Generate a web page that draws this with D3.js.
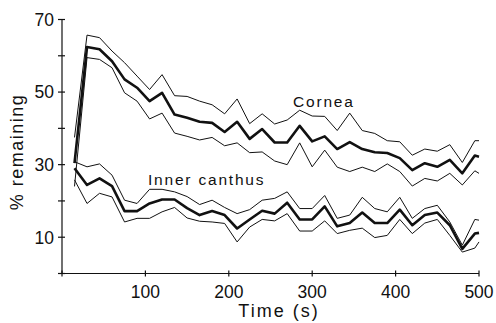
<!DOCTYPE html>
<html>
<head>
<meta charset="utf-8">
<script src="https://cdn.jsdelivr.net/npm/d3@7"></script>
<style>
	body { margin: 0; background: #fff; }
	text { font-family: "Liberation Sans", Arial, sans-serif; fill: #111; }
</style>
</head>
<body>
<div id="graphicContainer"></div>
<script>

var times = [15, 30, 45, 60, 75, 90, 105, 120, 135, 150, 165, 180, 195, 210, 225, 240, 255,
	270, 285, 300, 315, 330, 345, 360, 375, 390, 405, 420, 435, 450, 465, 480, 495, 500]

var corneaMean = [30.4, 62.4, 61.8, 58.5, 53.5, 51.2, 47.5, 49.8, 43.8, 42.9, 41.8, 41.5, 39.0, 41.8, 37.1, 39.8, 36.1,
	36.1, 40.7, 36.4, 37.8, 34.3, 36.2, 34.3, 33.4, 33.2, 31.8, 28.5, 30.4, 29.4, 31.3, 27.6, 32.5, 32.2]
var corneaUpper = [37.5, 65.7, 65.0, 61.3, 58.1, 54.4, 50.7, 54.8, 49.0, 48.8, 47.5, 46.5, 44.0, 48.1, 41.3, 44.0, 41.2,
	42.3, 45.0, 43.4, 43.3, 39.4, 44.2, 39.4, 38.6, 36.6, 36.3, 32.6, 34.3, 33.7, 35.5, 30.6, 36.6, 36.6]
var corneaLower = [24.0, 59.5, 59.0, 56.7, 49.8, 47.5, 42.6, 44.2, 38.7, 37.8, 36.8, 37.5, 35.2, 36.0, 33.3, 33.5, 31.0,
	30.0, 36.0, 29.4, 34.0, 29.3, 28.1, 29.3, 28.1, 30.2, 28.1, 24.1, 26.2, 25.5, 27.6, 24.4, 28.3, 27.6]

var canthusMean = [29.0, 24.4, 26.2, 24.1, 17.2, 17.2, 19.3, 20.4, 20.4, 18.0, 16.1, 17.2, 16.1, 12.4, 14.9, 17.3, 16.5,
	19.5, 14.9, 14.9, 18.5, 13.0, 13.9, 16.8, 13.9, 13.9, 17.6, 13.3, 16.1, 16.8, 13.3, 6.8, 11.0, 11.2]
var canthusUpper = [30.8, 29.4, 30.2, 27.1, 20.2, 19.3, 23.2, 23.2, 22.5, 21.2, 19.0, 20.2, 18.2, 16.5, 17.6, 20.2, 20.7,
	22.5, 17.9, 17.9, 21.5, 15.2, 16.1, 21.0, 17.9, 17.0, 21.0, 15.2, 17.9, 18.8, 14.2, 7.8, 14.9, 14.7]
var canthusLower = [25.8, 19.3, 22.1, 21.1, 14.2, 15.2, 15.2, 17.0, 18.2, 15.3, 14.4, 14.2, 13.8, 8.7, 12.8, 14.9, 14.5,
	16.5, 11.7, 11.7, 14.5, 11.0, 11.9, 12.5, 9.9, 10.5, 14.9, 11.0, 13.9, 14.9, 10.5, 5.9, 7.0, 8.7]

var xTicks = [100, 200, 300, 400, 500]
var yTicks = [10, 30, 50, 70]
var yMinor = [0, 20, 40, 60]

var width = 496,
	height = 323

var svg = d3.select("#graphicContainer").append("svg")
	.attr("width", width)
	.attr("height", height)

var x = d3.scaleLinear()
	.domain([0, 500])
	.range([62, 479])

var y = d3.scaleLinear()
	.domain([0, 70])
	.range([273.5, 19.5])

var line = d3.line()
	.x((d, i) => x(times[i]))
	.y(d => y(d))
	.curve(d3.curveLinear)

// axes, drawn by hand to get the crossed tick marks
var axes = svg.append("g")
	.attr("stroke", "#111")
	.attr("stroke-width", 1.2)

axes.append("line")
	.attr("x1", x(0)).attr("x2", x(0))
	.attr("y1", y(0)).attr("y2", y(70))

axes.append("line")
	.attr("x1", x(0)).attr("x2", x(500))
	.attr("y1", y(0)).attr("y2", y(0))

axes.selectAll(".ytick")
	.data(yTicks.concat(yMinor))
	.join("line")
	.attr("class", "ytick")
	.attr("x1", x(0) - 4).attr("x2", x(0) + 3)
	.attr("y1", d => y(d)).attr("y2", d => y(d))

axes.selectAll(".xtick")
	.data([0].concat(xTicks))
	.join("line")
	.attr("class", "xtick")
	.attr("x1", d => x(d)).attr("x2", d => x(d))
	.attr("y1", y(0) - 3).attr("y2", y(0) + 3)

svg.selectAll(".ylabel")
	.data(yTicks)
	.join("text")
	.attr("class", "ylabel")
	.attr("x", 54)
	.attr("y", d => y(d))
	.attr("dy", "0.36em")
	.attr("text-anchor", "end")
	.attr("font-size", 17.5)
	.text(d => d)

svg.selectAll(".xlabel")
	.data(xTicks)
	.join("text")
	.attr("class", "xlabel")
	.attr("x", d => x(d))
	.attr("y", 298)
	.attr("text-anchor", "middle")
	.attr("font-size", 17.5)
	.text(d => d)

svg.append("text")
	.attr("x", 279)
	.attr("y", 317)
	.attr("text-anchor", "middle")
	.attr("font-size", 18)
	.attr("letter-spacing", 2)
	.text("Time (s)")

svg.append("text")
	.attr("transform", "translate(23,152) rotate(-90)")
	.attr("text-anchor", "middle")
	.attr("font-size", 18)
	.attr("letter-spacing", 1.5)
	.text("% remaining")

// the two bands: thin upper / lower, thick mean
var series = [
	{v: corneaUpper, w: 1},
	{v: corneaLower, w: 1},
	{v: corneaMean, w: 2.6},
	{v: canthusUpper, w: 1},
	{v: canthusLower, w: 1},
	{v: canthusMean, w: 2.6}
]

svg.append("g")
	.selectAll("path")
	.data(series)
	.join("path")
	.attr("fill", "none")
	.attr("stroke", "#111")
	.attr("stroke-linejoin", "round")
	.attr("stroke-width", d => d.w)
	.attr("d", d => line(d.v))

svg.append("text")
	.attr("x", 293)
	.attr("y", 107)
	.attr("font-size", 15.5)
	.attr("letter-spacing", 1.8)
	.text("Cornea")

svg.append("text")
	.attr("x", 148)
	.attr("y", 184.5)
	.attr("font-size", 15.5)
	.attr("letter-spacing", 1.8)
	.text("Inner canthus")

</script>
</body>
</html>
